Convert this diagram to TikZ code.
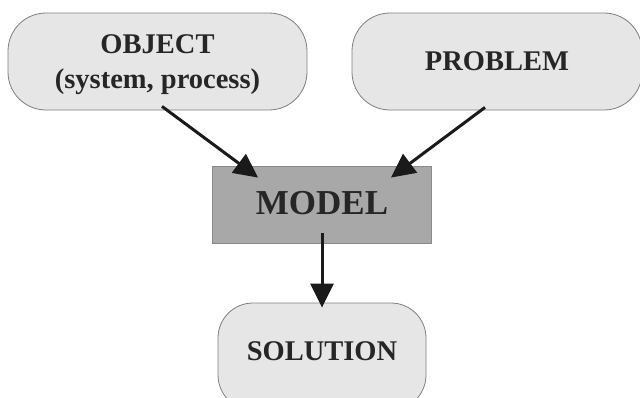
\documentclass[tikz,border=0pt]{standalone}
\usepackage{fontspec}
\setmainfont{Liberation Serif}
\usetikzlibrary{arrows.meta}
\definecolor{boxfill}{HTML}{E6E6E6}
\definecolor{boxline}{HTML}{7F7F7F}
\definecolor{modfill}{HTML}{A8A8A8}
\definecolor{modline}{HTML}{8A8A8A}
\definecolor{txt}{HTML}{262626}
\definecolor{arrcol}{HTML}{1A1A1A}
\begin{document}
\begin{tikzpicture}[x=1pt,y=-1pt,
 softbox/.style={draw=boxline, line width=0.8pt, fill=boxfill, rounded corners=38pt, inner sep=0pt, text=txt, font=\bfseries\fontsize{28.5}{35}\selectfont, align=center},
 modbox/.style={draw=modline, line width=0.8pt, fill=modfill, inner sep=0pt, text=txt, font=\bfseries\fontsize{35}{40}\selectfont, minimum width=219pt, minimum height=77pt},
 link/.style={draw=arrcol, line width=3pt, -{Triangle[length=24pt,width=23pt]}}
]
\useasboundingbox (0,0) rectangle (640,397);
\begin{scope}
\clip (0,0) rectangle (640,397);
\node[softbox, minimum width=299pt, minimum height=97pt, text depth=0pt] (obj) at (157.5,61.5) {OBJECT\\(system, process)};
\node[softbox, minimum width=290pt, minimum height=97pt] (prob) at (497,61.5) {PROBLEM};
\node[modbox, text depth=3pt] (model) at (322,204.5) {MODEL};
\node[softbox, rounded corners=35pt, minimum width=208pt, minimum height=107pt, text depth=11pt] (sol) at (322,356.5) {SOLUTION};
\end{scope}
\draw[link] ([xshift=4.5pt,yshift=4pt]obj.south) -- ([xshift=46pt,yshift=-12pt]model.north west);
\draw[link] ([xshift=-12pt,yshift=3pt]prob.south) -- ([xshift=-41pt,yshift=-12pt]model.north east);
\draw[link] ([yshift=10pt]model.south) -- ([yshift=-5pt]sol.north);
\end{tikzpicture}
\end{document}
